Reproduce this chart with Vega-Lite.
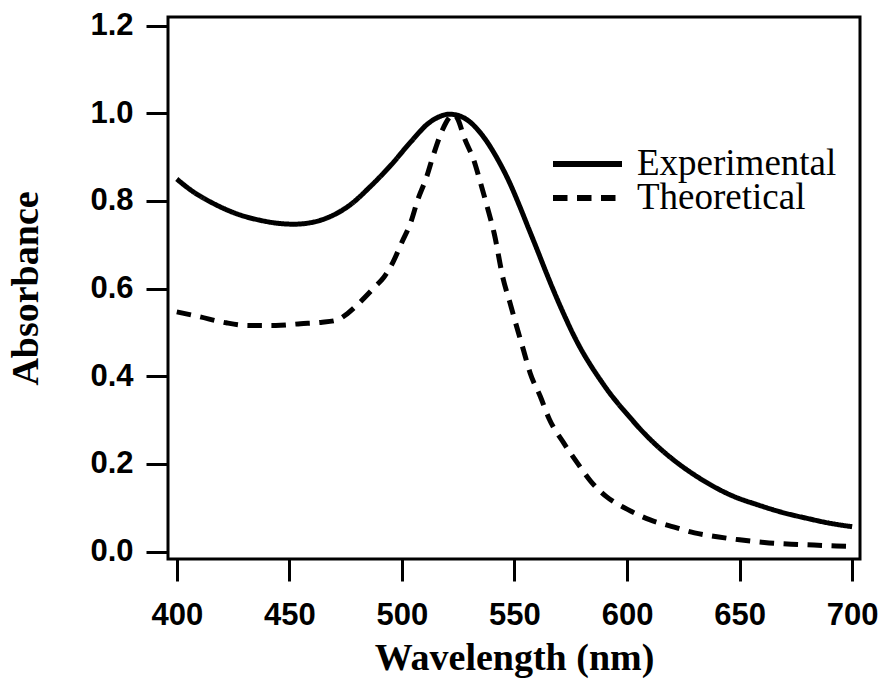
{
  "$schema": "https://vega.github.io/schema/vega-lite/v6.json",
  "width": 692,
  "height": 542,
  "autosize": {"type": "none"},
  "padding": {"left": 168, "top": 17, "right": 22, "bottom": 122},
  "background": "white",
  "config": {
    "view": {"stroke": "black", "strokeWidth": 3},
    "axis": {
      "domain": false,
      "grid": false,
      "ticks": true,
      "tickColor": "black",
      "tickWidth": 3,
      "tickSize": 22,
      "labelFont": "Liberation Sans",
      "labelFontWeight": "bold",
      "labelFontSize": 31,
      "labelColor": "black",
      "titleFont": "Liberation Serif",
      "titleFontWeight": "bold",
      "titleFontSize": 38,
      "titleColor": "black"
    },
    "legend": {
      "title": null,
      "orient": "none",
      "padding": 0,
      "symbolType": "M0,0H4.6",
      "symbolSize": 900,
      "symbolStrokeWidth": 6,
      "symbolStrokeColor": "black",
      "labelFont": "Liberation Serif",
      "labelFontSize": 37,
      "labelColor": "black",
      "labelOffset": 65.5,
      "labelLimit": 0
    }
  },
  "data": {
    "values": [
      {"nm": 400, "a": 0.850, "s": "Experimental"},
      {"nm": 407, "a": 0.822, "s": "Experimental"},
      {"nm": 416, "a": 0.795, "s": "Experimental"},
      {"nm": 427, "a": 0.770, "s": "Experimental"},
      {"nm": 437, "a": 0.756, "s": "Experimental"},
      {"nm": 445, "a": 0.749, "s": "Experimental"},
      {"nm": 452, "a": 0.747, "s": "Experimental"},
      {"nm": 460, "a": 0.751, "s": "Experimental"},
      {"nm": 468, "a": 0.764, "s": "Experimental"},
      {"nm": 477, "a": 0.791, "s": "Experimental"},
      {"nm": 486, "a": 0.833, "s": "Experimental"},
      {"nm": 495, "a": 0.881, "s": "Experimental"},
      {"nm": 504, "a": 0.935, "s": "Experimental"},
      {"nm": 512, "a": 0.978, "s": "Experimental"},
      {"nm": 517, "a": 0.993, "s": "Experimental"},
      {"nm": 521, "a": 0.998, "s": "Experimental"},
      {"nm": 525, "a": 0.995, "s": "Experimental"},
      {"nm": 529, "a": 0.985, "s": "Experimental"},
      {"nm": 536, "a": 0.948, "s": "Experimental"},
      {"nm": 542, "a": 0.900, "s": "Experimental"},
      {"nm": 548, "a": 0.840, "s": "Experimental"},
      {"nm": 552, "a": 0.792, "s": "Experimental"},
      {"nm": 556, "a": 0.741, "s": "Experimental"},
      {"nm": 560, "a": 0.690, "s": "Experimental"},
      {"nm": 564, "a": 0.638, "s": "Experimental"},
      {"nm": 568, "a": 0.588, "s": "Experimental"},
      {"nm": 572, "a": 0.541, "s": "Experimental"},
      {"nm": 576, "a": 0.497, "s": "Experimental"},
      {"nm": 580, "a": 0.458, "s": "Experimental"},
      {"nm": 584, "a": 0.424, "s": "Experimental"},
      {"nm": 588, "a": 0.393, "s": "Experimental"},
      {"nm": 592, "a": 0.364, "s": "Experimental"},
      {"nm": 596, "a": 0.338, "s": "Experimental"},
      {"nm": 600, "a": 0.314, "s": "Experimental"},
      {"nm": 606, "a": 0.279, "s": "Experimental"},
      {"nm": 613, "a": 0.243, "s": "Experimental"},
      {"nm": 621, "a": 0.208, "s": "Experimental"},
      {"nm": 630, "a": 0.175, "s": "Experimental"},
      {"nm": 638, "a": 0.150, "s": "Experimental"},
      {"nm": 647, "a": 0.127, "s": "Experimental"},
      {"nm": 658, "a": 0.107, "s": "Experimental"},
      {"nm": 668, "a": 0.091, "s": "Experimental"},
      {"nm": 680, "a": 0.076, "s": "Experimental"},
      {"nm": 690, "a": 0.065, "s": "Experimental"},
      {"nm": 700, "a": 0.057, "s": "Experimental"},
      {"nm": 400, "a": 0.547, "s": "Theoretical"},
      {"nm": 410, "a": 0.536, "s": "Theoretical"},
      {"nm": 422, "a": 0.522, "s": "Theoretical"},
      {"nm": 432, "a": 0.516, "s": "Theoretical"},
      {"nm": 444, "a": 0.516, "s": "Theoretical"},
      {"nm": 455, "a": 0.520, "s": "Theoretical"},
      {"nm": 464, "a": 0.523, "s": "Theoretical"},
      {"nm": 471, "a": 0.528, "s": "Theoretical"},
      {"nm": 476, "a": 0.544, "s": "Theoretical"},
      {"nm": 481, "a": 0.567, "s": "Theoretical"},
      {"nm": 488, "a": 0.604, "s": "Theoretical"},
      {"nm": 492, "a": 0.626, "s": "Theoretical"},
      {"nm": 496, "a": 0.660, "s": "Theoretical"},
      {"nm": 500, "a": 0.706, "s": "Theoretical"},
      {"nm": 504, "a": 0.752, "s": "Theoretical"},
      {"nm": 507, "a": 0.802, "s": "Theoretical"},
      {"nm": 511, "a": 0.855, "s": "Theoretical"},
      {"nm": 514, "a": 0.905, "s": "Theoretical"},
      {"nm": 518, "a": 0.962, "s": "Theoretical"},
      {"nm": 521, "a": 0.990, "s": "Theoretical"},
      {"nm": 523, "a": 0.998, "s": "Theoretical"},
      {"nm": 525, "a": 0.985, "s": "Theoretical"},
      {"nm": 527.5, "a": 0.947, "s": "Theoretical"},
      {"nm": 532, "a": 0.892, "s": "Theoretical"},
      {"nm": 535, "a": 0.840, "s": "Theoretical"},
      {"nm": 538, "a": 0.785, "s": "Theoretical"},
      {"nm": 541, "a": 0.726, "s": "Theoretical"},
      {"nm": 545, "a": 0.622, "s": "Theoretical"},
      {"nm": 548, "a": 0.568, "s": "Theoretical"},
      {"nm": 551, "a": 0.513, "s": "Theoretical"},
      {"nm": 554, "a": 0.460, "s": "Theoretical"},
      {"nm": 557, "a": 0.407, "s": "Theoretical"},
      {"nm": 561.5, "a": 0.354, "s": "Theoretical"},
      {"nm": 565.5, "a": 0.302, "s": "Theoretical"},
      {"nm": 572, "a": 0.247, "s": "Theoretical"},
      {"nm": 578, "a": 0.202, "s": "Theoretical"},
      {"nm": 584, "a": 0.160, "s": "Theoretical"},
      {"nm": 591, "a": 0.125, "s": "Theoretical"},
      {"nm": 600, "a": 0.097, "s": "Theoretical"},
      {"nm": 610, "a": 0.073, "s": "Theoretical"},
      {"nm": 621, "a": 0.056, "s": "Theoretical"},
      {"nm": 630, "a": 0.043, "s": "Theoretical"},
      {"nm": 640, "a": 0.034, "s": "Theoretical"},
      {"nm": 650, "a": 0.027, "s": "Theoretical"},
      {"nm": 661, "a": 0.021, "s": "Theoretical"},
      {"nm": 673, "a": 0.017, "s": "Theoretical"},
      {"nm": 683, "a": 0.015, "s": "Theoretical"},
      {"nm": 693, "a": 0.013, "s": "Theoretical"},
      {"nm": 700, "a": 0.012, "s": "Theoretical"}
    ]
  },
  "encoding": {
    "x": {
      "field": "nm", "type": "quantitative",
      "scale": {"domain": [396.1, 703.5], "nice": false, "zero": false},
      "axis": {"values": [400, 450, 500, 550, 600, 650, 700], "title": "Wavelength (nm)", "labelPadding": 19, "titlePadding": 9, "labelFlush": false}
    },
    "y": {
      "field": "a", "type": "quantitative",
      "scale": {"domain": [-0.0167, 1.2196], "nice": false, "zero": false},
      "axis": {"values": [0, 0.2, 0.4, 0.6, 0.8, 1.0, 1.2], "format": ".1f", "title": "Absorbance", "labelPadding": 13, "titlePadding": 44, "labelFlush": false}
    }
  },
  "layer": [
    {
      "transform": [{"filter": "datum.s === 'Experimental'"}],
      "mark": {"type": "line", "color": "black", "strokeWidth": 5, "interpolate": "monotone", "strokeCap": "butt", "clip": true},
      "encoding": {
        "strokeDash": {
          "field": "s", "type": "nominal",
          "scale": {"domain": ["Experimental"], "range": [[1, 0]]},
          "legend": {"legendX": 366.5, "legendY": 128.5}
        }
      }
    },
    {
      "transform": [{"filter": "datum.s === 'Theoretical'"}],
      "mark": {"type": "line", "color": "black", "strokeWidth": 5, "interpolate": "monotone", "strokeCap": "butt", "clip": true},
      "encoding": {
        "strokeDash": {
          "field": "s", "type": "nominal",
          "scale": {"domain": ["Theoretical"], "range": [[14.5, 9.5]]},
          "legend": {"legendX": 366.5, "legendY": 162.5}
        }
      }
    }
  ],
  "resolve": {"scale": {"strokeDash": "independent"}, "legend": {"strokeDash": "independent"}}
}
